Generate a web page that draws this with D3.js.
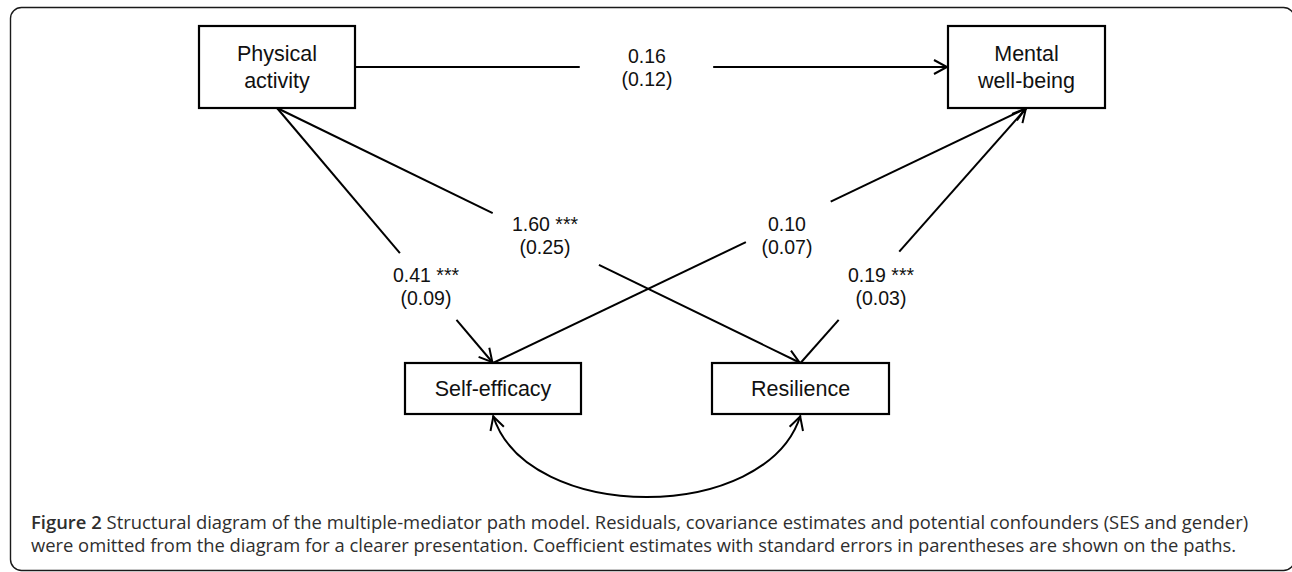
<!DOCTYPE html>
<html>
<head>
<meta charset="utf-8">
<script src="https://cdn.jsdelivr.net/npm/d3@7"></script>
<style>
  body { margin: 0; background: #fff; }
  svg { display: block; }
</style>
</head>
<body>
<svg id="diagram"></svg>
<script>
// node labels (one entry per line of text in the box)
const nodeNames = [["Physical", "activity"], ["Mental", "well-being"], ["Self-efficacy"], ["Resilience"]];

// paths of the model
const pathSources = [0, 0, 0, 2, 3];
const pathTargets = [1, 2, 3, 1, 1];
const estimates = ["0.16", "0.41", "1.60", "0.10", "0.19"];
const stars = ["", "***", "***", "", "***"];
const stdErrors = ["0.12", "0.09", "0.25", "0.07", "0.03"];

// covariance between the mediators
const covariancePair = [2, 3];

const captionBold = "Figure 2";
const captionLines = [
    " Structural diagram of the multiple-mediator path model. Residuals, covariance estimates and potential confounders (SES and gender)",
    "were omitted from the diagram for a clearer presentation. Coefficient estimates with standard errors in parentheses are shown on the paths."
];

const width = 1292;
const height = 572;

// layout of the drawing
const nodeLayout = [
    { cx: 277, cy: 67, w: 156, h: 82 },
    { cx: 1026.5, cy: 67, w: 157, h: 82 },
    { cx: 493, cy: 388.5, w: 176, h: 51 },
    { cx: 800.5, cy: 388.5, w: 177, h: 51 }
];

const pathLayout = [
    { from: "right", to: "left", gap: [0.379, 0.604], label: [647, 67] },
    { from: "bottom", to: "top", gap: [0.569, 0.831], label: [426, 286] },
    { from: "bottom", to: "top", gap: [0.412, 0.615], label: [545, 235] },
    { from: "top", to: "bottom", gap: [0.474, 0.633], label: [787, 235] },
    { from: "top", to: "bottom", gap: [0.169, 0.437], label: [881, 286] }
];

const textFont = "'Liberation Sans', Arial, sans-serif";
const captionFont = "'Open Sans', 'Noto Sans', sans-serif";

const svg = d3.select("#diagram")
    .attr("width", width)
    .attr("height", height);

const defs = svg.append("defs");

defs.append("marker")
    .attr("id", "arrow")
    .attr("viewBox", "-16 -9 18 18")
    .attr("refX", 0)
    .attr("refY", 0)
    .attr("markerUnits", "userSpaceOnUse")
    .attr("markerWidth", 18)
    .attr("markerHeight", 18)
    .attr("orient", "auto-start-reverse")
    .append("path")
    .attr("d", "M-14,-7 L-1,0 L-14,7")
    .attr("fill", "none")
    .attr("stroke", "#000")
    .attr("stroke-width", 2);

// outer frame
svg.append("rect")
    .attr("x", 10.5)
    .attr("y", 7.5)
    .attr("width", 1284)
    .attr("height", 563)
    .attr("rx", 11)
    .attr("fill", "none")
    .attr("stroke", "#1a1a1a")
    .attr("stroke-width", 1.4);

function anchor(i, side) {
    const n = nodeLayout[i];
    if (side === "right") return [n.cx + n.w / 2, n.cy];
    if (side === "left") return [n.cx - n.w / 2, n.cy];
    if (side === "top") return [n.cx, n.cy - n.h / 2];
    return [n.cx, n.cy + n.h / 2];
}

const paths = estimates.map((est, i) => ({
    source: pathSources[i],
    target: pathTargets[i],
    estimate: est,
    stars: stars[i],
    se: stdErrors[i],
    layout: pathLayout[i]
}));

const line = d3.line();
const pathGroup = svg.append("g");

paths.forEach(p => {
    const s = anchor(p.source, p.layout.from);
    const t = anchor(p.target, p.layout.to);
    const at = k => [s[0] + (t[0] - s[0]) * k, s[1] + (t[1] - s[1]) * k];

    pathGroup.append("path")
        .attr("d", line([s, at(p.layout.gap[0])]))
        .attr("fill", "none")
        .attr("stroke", "#000")
        .attr("stroke-width", 2);

    pathGroup.append("path")
        .attr("d", line([at(p.layout.gap[1]), t]))
        .attr("fill", "none")
        .attr("stroke", "#000")
        .attr("stroke-width", 2)
        .attr("marker-end", "url(#arrow)");

    const lbl = pathGroup.append("text")
        .attr("text-anchor", "middle")
        .style("font-family", textFont)
        .style("font-size", "19.5px")
        .attr("fill", "#111");

    lbl.append("tspan")
        .attr("x", p.layout.label[0])
        .attr("y", p.layout.label[1] - 4)
        .text(p.stars ? `${p.estimate} ${p.stars}` : p.estimate);

    lbl.append("tspan")
        .attr("x", p.layout.label[0])
        .attr("y", p.layout.label[1] + 19)
        .text(`(${p.se})`);
});

// covariance curve with two heads
const a = anchor(covariancePair[0], "bottom");
const b = anchor(covariancePair[1], "bottom");
const bend = 110;
const cp = d3.path();
cp.moveTo(a[0], a[1] + 1.5);
cp.bezierCurveTo(a[0] + 34, a[1] + bend, b[0] - 34, b[1] + bend, b[0], b[1] + 1.5);

svg.append("path")
    .attr("d", cp.toString())
    .attr("fill", "none")
    .attr("stroke", "#000")
    .attr("stroke-width", 2)
    .attr("marker-start", "url(#arrow)")
    .attr("marker-end", "url(#arrow)");

// nodes
const nodes = svg.selectAll(".node")
    .data(nodeNames)
    .enter()
    .append("g")
    .attr("class", "node");

nodes.append("rect")
    .attr("x", (d, i) => nodeLayout[i].cx - nodeLayout[i].w / 2)
    .attr("y", (d, i) => nodeLayout[i].cy - nodeLayout[i].h / 2)
    .attr("width", (d, i) => nodeLayout[i].w)
    .attr("height", (d, i) => nodeLayout[i].h)
    .attr("fill", "#fff")
    .attr("stroke", "#000")
    .attr("stroke-width", 2.2);

nodes.each(function (d, i) {
    const n = nodeLayout[i];
    const txt = d3.select(this).append("text")
        .attr("text-anchor", "middle")
        .style("font-family", textFont)
        .style("font-size", "21.5px")
        .attr("fill", "#111");
    const lineGap = 26.5;
    const first = n.cy + 7.7 - (d.length - 1) * lineGap / 2;
    d.forEach((s, k) => {
        txt.append("tspan")
            .attr("x", n.cx)
            .attr("y", first + k * lineGap)
            .text(s);
    });
});

// caption
const captionX = 31;
const captionBaselines = [529, 552];
const captionWidths = [1218, 1206];

captionLines.forEach((cl, i) => {
    const t = svg.append("text")
        .style("font-family", captionFont)
        .style("font-size", "18.5px")
        .attr("fill", "#2e2e2e");
    if (i === 0) {
        t.append("tspan")
            .style("font-weight", "600")
            .text(captionBold);
    }
    t.append("tspan").text(cl);
    const natural = t.node().getComputedTextLength();
    t.attr("transform", `translate(${captionX},${captionBaselines[i]}) scale(${captionWidths[i] / natural},1)`);
});
</script>
</body>
</html>
